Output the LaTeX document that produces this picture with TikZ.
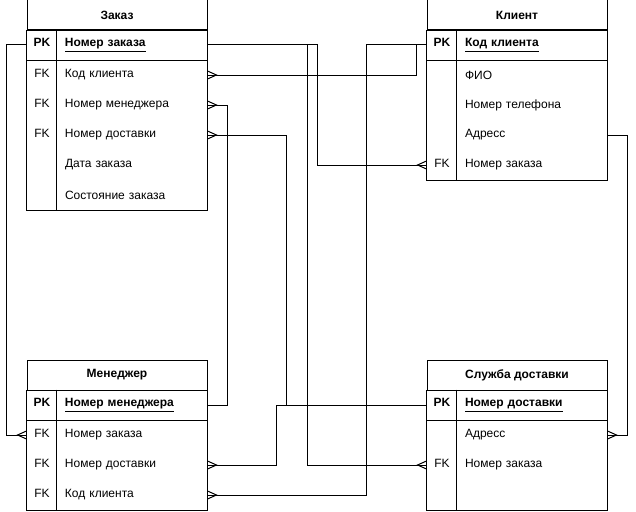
\documentclass[tikz,border=0pt]{standalone}
\usepackage{fontspec}
\setmainfont{Liberation Sans}
\usepackage{tikz}
\usetikzlibrary{shapes, arrows}
\tikzstyle{head} = [draw, rectangle, minimum height=30pt, minimum width=180pt, inner sep=0pt, font=\fontsize{12}{14}\selectfont\bfseries]
\tikzstyle{row} = [rectangle, minimum height=30pt, text width=172pt, inner xsep=4pt, inner ysep=0pt, align=left, font=\fontsize{12}{14}\selectfont]
\tikzstyle{pkrow} = [row, font=\fontsize{12}{14}\selectfont\bfseries]
\tikzstyle{link} = [draw, line width=1pt]
\newcommand{\fld}[2]{\makebox[22pt]{#1}\hspace{12pt}#2}
\newcommand{\many}[2]{\draw[link] ([yshift=4pt]#1) -- ([xshift=#2]#1) -- ([yshift=-4pt]#1);}

\begin{document}
\begin{tikzpicture}[auto, node distance=30pt, x=1pt, y=-1pt, line width=1pt]
  \useasboundingbox (0,0) rectangle (636,511);

  \node [head] (zak) at (117,15) {Заказ};
  \node [pkrow, below of=zak] (zak-pk) {\fld{PK}{\underline{Номер заказа}}};
  \node [row, below of=zak-pk] (zak-1) {\fld{FK}{Код клиента}};
  \node [row, below of=zak-1] (zak-2) {\fld{FK}{Номер менеджера}};
  \node [row, below of=zak-2] (zak-3) {\fld{FK}{Номер доставки}};
  \node [row, below of=zak-3] (zak-4) {\fld{}{Дата заказа}};
  \node [row, below of=zak-4] (zak-5) {\fld{}{Состояние заказа}};

  \node [head] (kl) at (517,15) {Клиент};
  \node [pkrow, below of=kl] (kl-pk) {\fld{PK}{\underline{Код клиента}}};
  \node [row, below of=kl-pk] (kl-1) {\fld{}{ФИО}};
  \node [row, below of=kl-1] (kl-2) {\fld{}{Номер телефона}};
  \node [row, below of=kl-2] (kl-3) {\fld{}{Адресс}};
  \node [row, below of=kl-3] (kl-4) {\fld{FK}{Номер заказа}};

  \node [head] (men) at (117,375) {Менеджер};
  \node [pkrow, below of=men] (men-pk) {\fld{PK}{\underline{Номер менеджера}}};
  \node [row, below of=men-pk] (men-1) {\fld{FK}{Номер заказа}};
  \node [row, below of=men-1] (men-2) {\fld{FK}{Номер доставки}};
  \node [row, below of=men-2] (men-3) {\fld{FK}{Код клиента}};

  \node [head] (dost) at (517,375) {Служба доставки};
  \node [pkrow, below of=dost] (dost-pk) {\fld{PK}{\underline{Номер доставки}}};
  \node [row, below of=dost-pk] (dost-1) {\fld{}{Адресс}};
  \node [row, below of=dost-1] (dost-2) {\fld{FK}{Номер заказа}};
  \node [row, below of=dost-2] (dost-3) {\fld{}{}};

  \foreach \t/\e in {zak/zak-5, kl/kl-4, men/men-3, dost/dost-3} {
    \draw (\t.south west) rectangle (\e.south east);
    \draw (\t-pk.south west) -- (\t-pk.south east);
    \draw ([xshift=30pt]\t-pk.north west) -- ([xshift=30pt]\e.south west);
  }

  \draw [link] (zak-pk.west) -- ++(-20,0) |- (men-1.west);
  \draw [link] (zak-pk.east) -- ++(100,0) |- (dost-2.west);
  \draw [link] (zak-pk.east) -- ++(110,0) |- (kl-4.west);
  \draw [link] (kl-pk.west) -- ++(-10,0) |- (zak-1.east);
  \draw [link] (kl-pk.west) -- ++(-60,0) |- (men-3.east);
  \draw [link] (men-pk.east) -- ++(20,0) |- (zak-2.east);
  \draw [link] (dost-pk.west) -- ++(-140,0) |- (zak-3.east);
  \draw [link] (dost-pk.west) -- ++(-150,0) |- (men-2.east);
  \draw [link] (kl-3.east) -- ++(20,0) |- (dost-1.east);

  \many{men-1.west}{-9pt}
  \many{dost-2.west}{-9pt}
  \many{kl-4.west}{-9pt}
  \many{zak-1.east}{9pt}
  \many{zak-2.east}{9pt}
  \many{zak-3.east}{9pt}
  \many{men-2.east}{9pt}
  \many{men-3.east}{9pt}
  \many{dost-1.east}{9pt}
\end{tikzpicture}
\end{document}
